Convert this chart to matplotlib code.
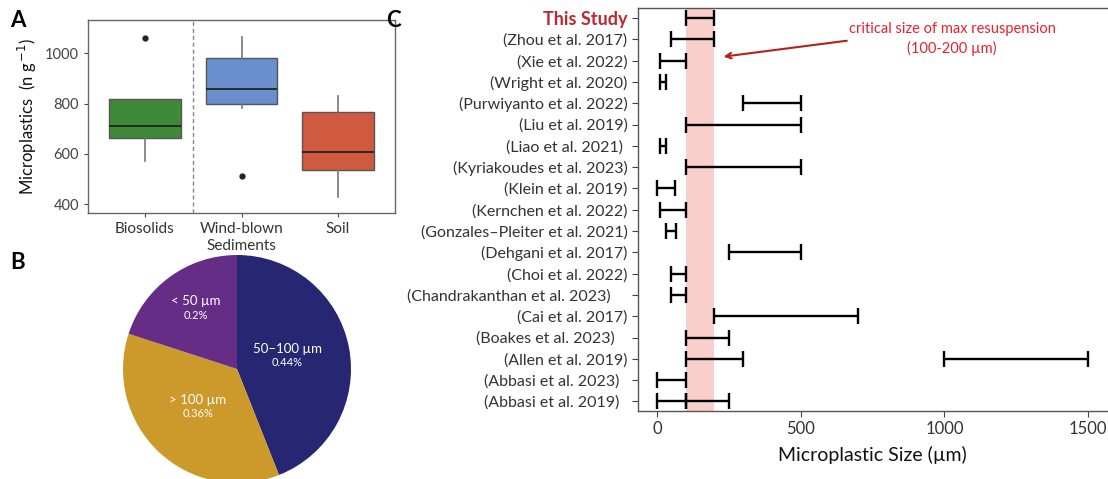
import matplotlib
matplotlib.use("Agg")
import matplotlib.pyplot as plt
import numpy as np

plt.rcParams['font.family'] = ['Lato', 'DejaVu Sans']
plt.rcParams['mathtext.fontset'] = 'custom'
plt.rcParams['mathtext.rm'] = 'Lato'

# ---- panel A data (box stats) ----
groups = ["Biosolids", "Wind-blown\nSediments", "Soil"]
box_q1 = [662, 798, 535]
box_med = [712, 858, 608]
box_q3 = [818, 980, 766]
box_lo = [570, 782, 430]
box_hi = [818, 1064, 828]
box_out = [[1062], [512], []]
box_colors = ["#3f8a3a", "#6a8fcd", "#d05a40"]

# ---- panel B data ----
pie_labels = ["50\u2013100 \u00b5m", "> 100 \u00b5m", "< 50 \u00b5m"]
pie_pct = ["0.44%", "0.36%", "0.2%"]
pie_vals = [0.44, 0.36, 0.20]
pie_colors = ["#262672", "#cc9a2a", "#662d87"]

# ---- panel C data ----
studies = ["This Study", "(Zhou et al. 2017)", "(Xie et al. 2022)", "(Wright et al. 2020)",
           "(Purwiyanto et al. 2022)", "(Liu et al. 2019)", "(Liao et al. 2021) ",
           "(Kyriakoudes et al. 2023)", "(Klein et al. 2019)", "(Kernchen et al. 2022)",
           "(Gonzales\u2013Pleiter et al. 2021)", "(Dehgani et al. 2017)", "(Choi et al. 2022)",
           "(Chandrakanthan et al. 2023)    ", "(Cai et al. 2017)", "(Boakes et al. 2023)   ",
           "(Allen et al. 2019)", "(Abbasi et al. 2023)  ", "(Abbasi et al. 2019)  "]
size_lo = [100, 50, 10, 10, 300, 100, 10, 100, 0, 11, 30, 250, 50, 50, 200, 100, 100, 0, 100]
size_hi = [200, 200, 100, 30, 500, 500, 30, 500, 63, 100, 65, 500, 100, 100, 700, 250, 300, 100, 250]
extra_row = [16, 18]
extra_lo = [1000, 0]
extra_hi = [1500, 100]
crit_lo, crit_hi = 100, 200

fig = plt.figure(figsize=(11.08, 4.79), dpi=100)
W, H = 1108, 479


def px_axes(x0, y0, x1, y1):
    return fig.add_axes([x0 / W, 1 - y1 / H, (x1 - x0) / W, (y1 - y0) / H])


# ---------------- A ----------------
axA = px_axes(88, 20, 395, 213)
stats = []
for i in range(len(groups)):
    stats.append(dict(med=box_med[i], q1=box_q1[i], q3=box_q3[i],
                      whislo=box_lo[i], whishi=box_hi[i], fliers=box_out[i]))
bp = axA.bxp(stats, positions=[1, 2, 3], widths=0.74, patch_artist=True,
             boxprops=dict(edgecolor="#555555", linewidth=1),
             medianprops=dict(color="#222222", linewidth=1.3),
             whiskerprops=dict(color="#777777", linewidth=1.2),
             capprops=dict(linewidth=0),
             flierprops=dict(marker="o", markerfacecolor="#222222", markeredgecolor="#222222",
                             markersize=3.5))
for patch, c in zip(bp["boxes"], box_colors):
    patch.set_facecolor(c)
axA.axvline(1.5, color="#888888", linestyle=(0, (3, 2)), linewidth=1)
axA.set_xlim(0.41, 3.59)
axA.set_ylim(365, 1132)
axA.set_yticks([400, 600, 800, 1000])
axA.set_xticks([1, 2, 3])
axA.tick_params(axis="y", labelsize=10.5, colors="#444444", length=3)
axA.tick_params(axis="x", length=3, colors="#444444")
axA.set_xticklabels(groups, fontsize=11, color="#333333", linespacing=1.25)
axA.set_ylabel(r"Microplastics  (n g$^{\,\mathsf{-1}}$)", fontsize=12, color="#111111", labelpad=4)
for s in axA.spines.values():
    s.set_color("#666666")
    s.set_linewidth(1)

# ---------------- B ----------------
axB = px_axes(123, 255, 351, 483)
wedges, _ = axB.pie(pie_vals, colors=pie_colors, startangle=90, counterclock=False,
                    wedgeprops=dict(linewidth=0))
axB.set_xlim(-1, 1)
axB.set_ylim(-1, 1)
label_r = [0.45, 0.5, 0.62]
ang0 = 90
for i, v in enumerate(pie_vals):
    mid = np.deg2rad(ang0 - v * 360 / 2)
    ang0 -= v * 360
    x, y = label_r[i] * np.cos(mid), label_r[i] * np.sin(mid)
    axB.text(x, y + 0.04, pie_labels[i], color="white", fontsize=9.5, ha="center", va="bottom")
    axB.text(x, y + 0.02, pie_pct[i], color="white", fontsize=8, ha="center", va="top")

# ---------------- C ----------------
axC = px_axes(638, 8, 1107, 411)
rows = np.arange(len(studies))
axC.axvspan(crit_lo, crit_hi, color="#f9cfcb", linewidth=0, zorder=0)
lo = np.array(size_lo)
hi = np.array(size_hi)
axC.errorbar((lo + hi) / 2, rows, xerr=(hi - lo) / 2, fmt="none", ecolor="black",
             elinewidth=1.7, capsize=5.5, capthick=1.7)
elo = np.array(extra_lo)
ehi = np.array(extra_hi)
axC.errorbar((elo + ehi) / 2, extra_row, xerr=(ehi - elo) / 2, fmt="none", ecolor="black",
             elinewidth=1.7, capsize=5.5, capthick=1.7)
axC.set_ylim(18.45, -0.47)
axC.set_xlim(-66, 1566)
axC.set_yticks(rows)
axC.set_xticks([0, 500, 1000, 1500])
axC.tick_params(axis="x", labelsize=12, colors="#444444", length=4)
axC.tick_params(axis="y", colors="#444444", length=4)
axC.set_yticklabels(studies, fontsize=11.5, color="#333333")
for lab in axC.get_xticklabels():
    lab.set_color("#333333")
lab0 = axC.get_yticklabels()[0]
lab0.set_color("#c0272d")
lab0.set_fontweight("bold")
lab0.set_fontsize(13)
axC.set_xlabel("Microplastic Size (\u00b5m)", fontsize=14, color="#111111", labelpad=6)
for s in axC.spines.values():
    s.set_color("#555555")
    s.set_linewidth(1)
axC.spines["right"].set_visible(False)
axC.annotate("", xy=(222, 1.83), xytext=(670, 1.05),
             arrowprops=dict(arrowstyle="->", color="#b5201f", lw=1.5))
axC.text(1027, 1.0, "critical size of max resuspension\n(100-200 \u00b5m)", color="#e8202a",
         fontsize=10.5, ha="center", va="center", linespacing=1.4)

# panel letters
fig.text(10 / W, 1 - 10 / H, "A", fontsize=16, fontweight="bold", va="top")
fig.text(10 / W, 1 - 252 / H, "B", fontsize=16, fontweight="bold", va="top")
fig.text(386 / W, 1 - 10 / H, "C", fontsize=16, fontweight="bold", va="top")

fig.savefig("out.png", dpi=100)
